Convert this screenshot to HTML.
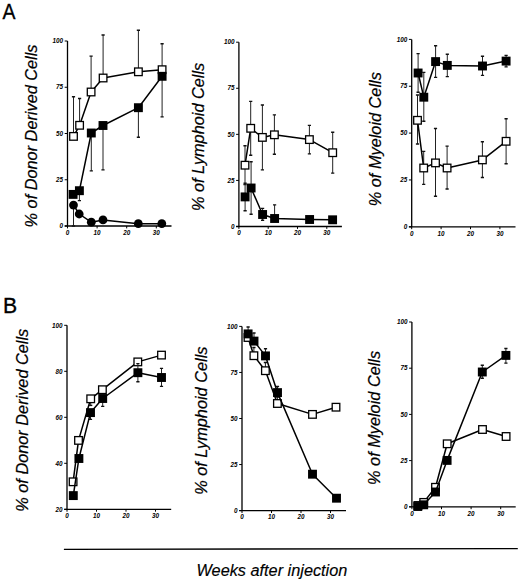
<!DOCTYPE html>
<html><head><meta charset="utf-8">
<style>
html,body{margin:0;padding:0;background:#fff;}
body{width:520px;height:582px;overflow:hidden;}
svg{display:block;}
text{font-family:"Liberation Sans", sans-serif;}
.tk{font-size:6.3px;font-style:italic;font-weight:bold;}
.yl{font-size:16.3px;font-style:italic;stroke:#000;stroke-width:0.2px;}
.xl{font-size:16.3px;font-style:italic;stroke:#000;stroke-width:0.15px;}
.pl{font-size:23.3px;stroke:#000;stroke-width:0.35px;}
</style></head>
<body>
<svg width="520" height="582" viewBox="0 0 520 582">
<rect width="520" height="582" fill="#fff"/>
<path d="M67.5 41V226M64.7 226H171.5" stroke="#000" stroke-width="1.3" fill="none"/>
<path d="M64.7 226H67.5M64.7 179.75H67.5M64.7 133.5H67.5M64.7 87.25H67.5M64.7 41H67.5M67.5 226V228.4M97.1 226V228.4M126.7 226V228.4M156.3 226V228.4" stroke="#000" stroke-width="1" fill="none"/>
<text x="63.1" y="228.2" text-anchor="end" class="tk">0</text>
<text x="63.1" y="181.95" text-anchor="end" class="tk">25</text>
<text x="63.1" y="135.7" text-anchor="end" class="tk">50</text>
<text x="63.1" y="89.45" text-anchor="end" class="tk">75</text>
<text x="63.1" y="43.2" text-anchor="end" class="tk">100</text>
<text x="67.5" y="234.8" text-anchor="middle" class="tk">0</text>
<text x="97.1" y="234.8" text-anchor="middle" class="tk">10</text>
<text x="126.7" y="234.8" text-anchor="middle" class="tk">20</text>
<text x="156.3" y="234.8" text-anchor="middle" class="tk">30</text>
<path d="M73.5 136.4V96.7M79.6 125.3V98.5M91.1 92V56.1M103.1 78V35M138.4 71.8V30.2M162.1 69.7V43.8" stroke="#222" stroke-width="1.0" fill="none"/><path d="M71.9 96.7H75.1M78 98.5H81.2M89.5 56.1H92.7M101.5 35H104.7M136.8 30.2H140M160.5 43.8H163.7" stroke="#111" stroke-width="1.4" fill="none"/>
<polyline points="73.5,136.4 79.6,125.3 91.1,92 103.1,78 138.4,71.8 162.1,69.7" stroke="#000" stroke-width="1.5" fill="none" stroke-linejoin="round"/>
<rect x="69.7" y="132.6" width="7.6" height="7.6" fill="#fff" stroke="#000" stroke-width="1.3"/>
<rect x="75.8" y="121.5" width="7.6" height="7.6" fill="#fff" stroke="#000" stroke-width="1.3"/>
<rect x="87.3" y="88.2" width="7.6" height="7.6" fill="#fff" stroke="#000" stroke-width="1.3"/>
<rect x="99.3" y="74.2" width="7.6" height="7.6" fill="#fff" stroke="#000" stroke-width="1.3"/>
<rect x="134.6" y="68" width="7.6" height="7.6" fill="#fff" stroke="#000" stroke-width="1.3"/>
<rect x="158.3" y="65.9" width="7.6" height="7.6" fill="#fff" stroke="#000" stroke-width="1.3"/>
<path d="M79.4 190.7V200.6M91.3 133V170.9M103 125.5V169.9M138.4 107.7V137.2M162.1 76.3V116.9" stroke="#222" stroke-width="1.0" fill="none"/><path d="M77.8 200.6H81M89.7 170.9H92.9M101.4 169.9H104.6M136.8 137.2H140M160.5 116.9H163.7" stroke="#111" stroke-width="1.4" fill="none"/>
<polyline points="73.1,194.4 79.4,190.7 91.3,133 103,125.5 138.4,107.7 162.1,76.3" stroke="#000" stroke-width="1.5" fill="none" stroke-linejoin="round"/>
<rect x="68.65" y="189.95" width="8.9" height="8.9" fill="#000"/>
<rect x="74.95" y="186.25" width="8.9" height="8.9" fill="#000"/>
<rect x="86.85" y="128.55" width="8.9" height="8.9" fill="#000"/>
<rect x="98.55" y="121.05" width="8.9" height="8.9" fill="#000"/>
<rect x="133.95" y="103.25" width="8.9" height="8.9" fill="#000"/>
<rect x="157.65" y="71.85" width="8.9" height="8.9" fill="#000"/>
<path d="M73.5 205.1V226" stroke="#222" stroke-width="1.0" fill="none"/><path d="M71.9 226H75.1" stroke="#111" stroke-width="1.4" fill="none"/>
<polyline points="73.5,205.1 79.2,214 91.3,222.2 103,219.9 138.3,223.7 161.8,223.7" stroke="#000" stroke-width="1.5" fill="none" stroke-linejoin="round"/>
<circle cx="73.5" cy="205.1" r="4.4" fill="#000"/>
<circle cx="79.2" cy="214" r="4.4" fill="#000"/>
<circle cx="91.3" cy="222.2" r="4.4" fill="#000"/>
<circle cx="103" cy="219.9" r="4.4" fill="#000"/>
<circle cx="138.3" cy="223.7" r="4.4" fill="#000"/>
<circle cx="161.8" cy="223.7" r="4.4" fill="#000"/>
<path d="M238.9 42.2V226.5M236.1 226.5H341.9" stroke="#000" stroke-width="1.3" fill="none"/>
<path d="M236.1 226.5H238.9M236.1 180.43H238.9M236.1 134.35H238.9M236.1 88.27H238.9M236.1 42.2H238.9M238.9 226.5V228.9M268.2 226.5V228.9M297.5 226.5V228.9M326.8 226.5V228.9" stroke="#000" stroke-width="1" fill="none"/>
<text x="234.5" y="228.7" text-anchor="end" class="tk">0</text>
<text x="234.5" y="182.62" text-anchor="end" class="tk">25</text>
<text x="234.5" y="136.55" text-anchor="end" class="tk">50</text>
<text x="234.5" y="90.47" text-anchor="end" class="tk">75</text>
<text x="234.5" y="44.4" text-anchor="end" class="tk">100</text>
<text x="238.9" y="235.3" text-anchor="middle" class="tk">0</text>
<text x="268.2" y="235.3" text-anchor="middle" class="tk">10</text>
<text x="297.5" y="235.3" text-anchor="middle" class="tk">20</text>
<text x="326.8" y="235.3" text-anchor="middle" class="tk">30</text>
<path d="M245 165.2V145.8M245 165.2V184.6M250.7 128.3V101.4M250.7 128.3V155.2M262.4 137.4V105M262.4 137.4V169.9M274.4 134.8V114.9M274.4 134.8V154.3M309.4 139.6V125.4M309.4 139.6V153.9M332.7 152.7V132.2M332.7 152.7V173.1" stroke="#222" stroke-width="1.0" fill="none"/><path d="M243.4 145.8H246.6M243.4 184.6H246.6M249.1 101.4H252.3M249.1 155.2H252.3M260.8 105H264M260.8 169.9H264M272.8 114.9H276M272.8 154.3H276M307.8 125.4H311M307.8 153.9H311M331.1 132.2H334.3M331.1 173.1H334.3" stroke="#111" stroke-width="1.4" fill="none"/>
<polyline points="245,165.2 250.7,128.3 262.4,137.4 274.4,134.8 309.4,139.6 332.7,152.7" stroke="#000" stroke-width="1.5" fill="none" stroke-linejoin="round"/>
<rect x="241.2" y="161.4" width="7.6" height="7.6" fill="#fff" stroke="#000" stroke-width="1.3"/>
<rect x="246.9" y="124.5" width="7.6" height="7.6" fill="#fff" stroke="#000" stroke-width="1.3"/>
<rect x="258.6" y="133.6" width="7.6" height="7.6" fill="#fff" stroke="#000" stroke-width="1.3"/>
<rect x="270.6" y="131" width="7.6" height="7.6" fill="#fff" stroke="#000" stroke-width="1.3"/>
<rect x="305.6" y="135.8" width="7.6" height="7.6" fill="#fff" stroke="#000" stroke-width="1.3"/>
<rect x="328.9" y="148.9" width="7.6" height="7.6" fill="#fff" stroke="#000" stroke-width="1.3"/>
<path d="M245.1 196.9V183.3M245.1 196.9V210.7M251.1 188V161.7M251.1 188V214.3M262.6 214.5V208.4M262.6 214.5V220.2M274.6 218.5V204.9" stroke="#222" stroke-width="1.0" fill="none"/><path d="M243.5 183.3H246.7M243.5 210.7H246.7M249.5 161.7H252.7M249.5 214.3H252.7M261 208.4H264.2M261 220.2H264.2M273 204.9H276.2" stroke="#111" stroke-width="1.4" fill="none"/>
<polyline points="245.1,196.9 251.1,188 262.6,214.5 274.6,218.5 309.6,219.5 332.6,219.8" stroke="#000" stroke-width="1.5" fill="none" stroke-linejoin="round"/>
<rect x="240.65" y="192.45" width="8.9" height="8.9" fill="#000"/>
<rect x="246.65" y="183.55" width="8.9" height="8.9" fill="#000"/>
<rect x="258.15" y="210.05" width="8.9" height="8.9" fill="#000"/>
<rect x="270.15" y="214.05" width="8.9" height="8.9" fill="#000"/>
<rect x="305.15" y="215.05" width="8.9" height="8.9" fill="#000"/>
<rect x="328.15" y="215.35" width="8.9" height="8.9" fill="#000"/>
<path d="M411.7 39.4V226.8M408.9 226.8H515.5" stroke="#000" stroke-width="1.3" fill="none"/>
<path d="M408.9 226.8H411.7M408.9 179.95H411.7M408.9 133.1H411.7M408.9 86.25H411.7M408.9 39.4H411.7M411.7 226.8V229.2M441.1 226.8V229.2M470.5 226.8V229.2M499.9 226.8V229.2" stroke="#000" stroke-width="1" fill="none"/>
<text x="407.3" y="229" text-anchor="end" class="tk">0</text>
<text x="407.3" y="182.15" text-anchor="end" class="tk">25</text>
<text x="407.3" y="135.3" text-anchor="end" class="tk">50</text>
<text x="407.3" y="88.45" text-anchor="end" class="tk">75</text>
<text x="407.3" y="41.6" text-anchor="end" class="tk">100</text>
<text x="411.7" y="235.6" text-anchor="middle" class="tk">0</text>
<text x="441.1" y="235.6" text-anchor="middle" class="tk">10</text>
<text x="470.5" y="235.6" text-anchor="middle" class="tk">20</text>
<text x="499.9" y="235.6" text-anchor="middle" class="tk">30</text>
<path d="M417.5 120.3V95M417.5 120.3V144M423.7 168V151.4M423.7 168V184.4M435.5 162.9V128.5M435.5 162.9V196.3M447.1 168V146.1M447.1 168V189M482.4 159.9V141.7M482.4 159.9V177.5M506.1 141.3V118.8M506.1 141.3V163.8" stroke="#222" stroke-width="1.0" fill="none"/><path d="M415.9 95H419.1M415.9 144H419.1M422.1 151.4H425.3M422.1 184.4H425.3M433.9 128.5H437.1M433.9 196.3H437.1M445.5 146.1H448.7M445.5 189H448.7M480.8 141.7H484M480.8 177.5H484M504.5 118.8H507.7M504.5 163.8H507.7" stroke="#111" stroke-width="1.4" fill="none"/>
<polyline points="417.5,120.3 423.7,168 435.5,162.9 447.1,168 482.4,159.9 506.1,141.3" stroke="#000" stroke-width="1.5" fill="none" stroke-linejoin="round"/>
<rect x="413.7" y="116.5" width="7.6" height="7.6" fill="#fff" stroke="#000" stroke-width="1.3"/>
<rect x="419.9" y="164.2" width="7.6" height="7.6" fill="#fff" stroke="#000" stroke-width="1.3"/>
<rect x="431.7" y="159.1" width="7.6" height="7.6" fill="#fff" stroke="#000" stroke-width="1.3"/>
<rect x="443.3" y="164.2" width="7.6" height="7.6" fill="#fff" stroke="#000" stroke-width="1.3"/>
<rect x="478.6" y="156.1" width="7.6" height="7.6" fill="#fff" stroke="#000" stroke-width="1.3"/>
<rect x="502.3" y="137.5" width="7.6" height="7.6" fill="#fff" stroke="#000" stroke-width="1.3"/>
<path d="M418.1 73V53.6M418.1 73V92.3M423.8 97.2V72.4M423.8 97.2V121.3M435.6 61.6V45.8M435.6 61.6V77.4M447.3 65.4V54.2M447.3 65.4V76.6M482.5 66V56.2M482.5 66V75.4M506.1 61.1V55.4M506.1 61.1V66.9" stroke="#222" stroke-width="1.0" fill="none"/><path d="M416.5 53.6H419.7M416.5 92.3H419.7M422.2 72.4H425.4M422.2 121.3H425.4M434 45.8H437.2M434 77.4H437.2M445.7 54.2H448.9M445.7 76.6H448.9M480.9 56.2H484.1M480.9 75.4H484.1M504.5 55.4H507.7M504.5 66.9H507.7" stroke="#111" stroke-width="1.4" fill="none"/>
<polyline points="418.1,73 423.8,97.2 435.6,61.6 447.3,65.4 482.5,66 506.1,61.1" stroke="#000" stroke-width="1.5" fill="none" stroke-linejoin="round"/>
<rect x="413.65" y="68.55" width="8.9" height="8.9" fill="#000"/>
<rect x="419.35" y="92.75" width="8.9" height="8.9" fill="#000"/>
<rect x="431.15" y="57.15" width="8.9" height="8.9" fill="#000"/>
<rect x="442.85" y="60.95" width="8.9" height="8.9" fill="#000"/>
<rect x="478.05" y="61.55" width="8.9" height="8.9" fill="#000"/>
<rect x="501.65" y="56.65" width="8.9" height="8.9" fill="#000"/>
<path d="M67 325.3V509.3M64.2 509.3H171.2" stroke="#000" stroke-width="1.3" fill="none"/>
<path d="M64.2 509.3H67M64.2 463.3H67M64.2 417.3H67M64.2 371.3H67M64.2 325.3H67M67 509.3V511.7M96.5 509.3V511.7M126 509.3V511.7M155.5 509.3V511.7" stroke="#000" stroke-width="1" fill="none"/>
<text x="62.6" y="511.5" text-anchor="end" class="tk">20</text>
<text x="62.6" y="465.5" text-anchor="end" class="tk">40</text>
<text x="62.6" y="419.5" text-anchor="end" class="tk">60</text>
<text x="62.6" y="373.5" text-anchor="end" class="tk">80</text>
<text x="62.6" y="327.5" text-anchor="end" class="tk">100</text>
<text x="67" y="518.1" text-anchor="middle" class="tk">0</text>
<text x="96.5" y="518.1" text-anchor="middle" class="tk">10</text>
<text x="126" y="518.1" text-anchor="middle" class="tk">20</text>
<text x="155.5" y="518.1" text-anchor="middle" class="tk">30</text>
<path d="M90.7 398.8V405.4" stroke="#222" stroke-width="1.0" fill="none"/><path d="M89.1 405.4H92.3" stroke="#111" stroke-width="1.4" fill="none"/>
<polyline points="73.1,481.8 78.5,440.4 90.7,398.8 102.4,389.7 137.8,361.9 161.5,355.1" stroke="#000" stroke-width="1.5" fill="none" stroke-linejoin="round"/>
<rect x="69.3" y="478" width="7.6" height="7.6" fill="#fff" stroke="#000" stroke-width="1.3"/>
<rect x="74.7" y="436.6" width="7.6" height="7.6" fill="#fff" stroke="#000" stroke-width="1.3"/>
<rect x="86.9" y="395" width="7.6" height="7.6" fill="#fff" stroke="#000" stroke-width="1.3"/>
<rect x="98.6" y="385.9" width="7.6" height="7.6" fill="#fff" stroke="#000" stroke-width="1.3"/>
<rect x="134" y="358.1" width="7.6" height="7.6" fill="#fff" stroke="#000" stroke-width="1.3"/>
<rect x="157.7" y="351.3" width="7.6" height="7.6" fill="#fff" stroke="#000" stroke-width="1.3"/>
<path d="M90.5 412.6V419.4M102.7 398.5V406.4M137.9 372.7V363.6M137.9 372.7V381.8M161.5 377.5V368.4M161.5 377.5V386.4" stroke="#222" stroke-width="1.0" fill="none"/><path d="M88.9 419.4H92.1M101.1 406.4H104.3M136.3 363.6H139.5M136.3 381.8H139.5M159.9 368.4H163.1M159.9 386.4H163.1" stroke="#111" stroke-width="1.4" fill="none"/>
<polyline points="73.3,495.6 78.9,458.5 90.5,412.6 102.7,398.5 137.9,372.7 161.5,377.5" stroke="#000" stroke-width="1.5" fill="none" stroke-linejoin="round"/>
<rect x="68.85" y="491.15" width="8.9" height="8.9" fill="#000"/>
<rect x="74.45" y="454.05" width="8.9" height="8.9" fill="#000"/>
<rect x="86.05" y="408.15" width="8.9" height="8.9" fill="#000"/>
<rect x="98.25" y="394.05" width="8.9" height="8.9" fill="#000"/>
<rect x="133.45" y="368.25" width="8.9" height="8.9" fill="#000"/>
<rect x="157.05" y="373.05" width="8.9" height="8.9" fill="#000"/>
<path d="M242 326.4V510.6M239.2 510.6H346" stroke="#000" stroke-width="1.3" fill="none"/>
<path d="M239.2 510.6H242M239.2 464.55H242M239.2 418.5H242M239.2 372.45H242M239.2 326.4H242M242 510.6V513M271.5 510.6V513M301 510.6V513M330.5 510.6V513" stroke="#000" stroke-width="1" fill="none"/>
<text x="237.6" y="512.8" text-anchor="end" class="tk">0</text>
<text x="237.6" y="466.75" text-anchor="end" class="tk">25</text>
<text x="237.6" y="420.7" text-anchor="end" class="tk">50</text>
<text x="237.6" y="374.65" text-anchor="end" class="tk">75</text>
<text x="237.6" y="328.6" text-anchor="end" class="tk">100</text>
<text x="242" y="519.4" text-anchor="middle" class="tk">0</text>
<text x="271.5" y="519.4" text-anchor="middle" class="tk">10</text>
<text x="301" y="519.4" text-anchor="middle" class="tk">20</text>
<text x="330.5" y="519.4" text-anchor="middle" class="tk">30</text>
<path d="M253.9 355.7V347.5M265.4 370.7V362.5M277.4 403.5V397" stroke="#222" stroke-width="1.0" fill="none"/><path d="M252.3 347.5H255.5M263.8 362.5H267M275.8 397H279" stroke="#111" stroke-width="1.4" fill="none"/>
<polyline points="248,337.5 253.9,355.7 265.4,370.7 277.4,403.5 312.5,414.4 336,407.2" stroke="#000" stroke-width="1.5" fill="none" stroke-linejoin="round"/>
<rect x="244.2" y="333.7" width="7.6" height="7.6" fill="#fff" stroke="#000" stroke-width="1.3"/>
<rect x="250.1" y="351.9" width="7.6" height="7.6" fill="#fff" stroke="#000" stroke-width="1.3"/>
<rect x="261.6" y="366.9" width="7.6" height="7.6" fill="#fff" stroke="#000" stroke-width="1.3"/>
<rect x="273.6" y="399.7" width="7.6" height="7.6" fill="#fff" stroke="#000" stroke-width="1.3"/>
<rect x="308.7" y="410.6" width="7.6" height="7.6" fill="#fff" stroke="#000" stroke-width="1.3"/>
<rect x="332.2" y="403.4" width="7.6" height="7.6" fill="#fff" stroke="#000" stroke-width="1.3"/>
<path d="M248.1 333.9V327M254 341.1V333M265.5 355.9V348.7M277.5 392.6V386.5" stroke="#222" stroke-width="1.0" fill="none"/><path d="M246.5 327H249.7M252.4 333H255.6M263.9 348.7H267.1M275.9 386.5H279.1" stroke="#111" stroke-width="1.4" fill="none"/>
<polyline points="248.1,333.9 254,341.1 265.5,355.9 277.5,392.6 312.5,474.2 336.5,498.2" stroke="#000" stroke-width="1.5" fill="none" stroke-linejoin="round"/>
<rect x="243.65" y="329.45" width="8.9" height="8.9" fill="#000"/>
<rect x="249.55" y="336.65" width="8.9" height="8.9" fill="#000"/>
<rect x="261.05" y="351.45" width="8.9" height="8.9" fill="#000"/>
<rect x="273.05" y="388.15" width="8.9" height="8.9" fill="#000"/>
<rect x="308.05" y="469.75" width="8.9" height="8.9" fill="#000"/>
<rect x="332.05" y="493.75" width="8.9" height="8.9" fill="#000"/>
<path d="M411.9 322V506.8M409.1 506.8H515.7" stroke="#000" stroke-width="1.3" fill="none"/>
<path d="M409.1 506.8H411.9M409.1 460.6H411.9M409.1 414.4H411.9M409.1 368.2H411.9M409.1 322H411.9M411.9 506.8V509.2M441.5 506.8V509.2M471.1 506.8V509.2M500.7 506.8V509.2" stroke="#000" stroke-width="1" fill="none"/>
<text x="407.5" y="509" text-anchor="end" class="tk">0</text>
<text x="407.5" y="462.8" text-anchor="end" class="tk">25</text>
<text x="407.5" y="416.6" text-anchor="end" class="tk">50</text>
<text x="407.5" y="370.4" text-anchor="end" class="tk">75</text>
<text x="407.5" y="324.2" text-anchor="end" class="tk">100</text>
<text x="411.9" y="515.6" text-anchor="middle" class="tk">0</text>
<text x="441.5" y="515.6" text-anchor="middle" class="tk">10</text>
<text x="471.1" y="515.6" text-anchor="middle" class="tk">20</text>
<text x="500.7" y="515.6" text-anchor="middle" class="tk">30</text>
<polyline points="417.9,505.5 423.7,502.4 435.5,487.3 447.2,443.8 482.5,429.5 506.1,436.5" stroke="#000" stroke-width="1.5" fill="none" stroke-linejoin="round"/>
<rect x="414.1" y="501.7" width="7.6" height="7.6" fill="#fff" stroke="#000" stroke-width="1.3"/>
<rect x="419.9" y="498.6" width="7.6" height="7.6" fill="#fff" stroke="#000" stroke-width="1.3"/>
<rect x="431.7" y="483.5" width="7.6" height="7.6" fill="#fff" stroke="#000" stroke-width="1.3"/>
<rect x="443.4" y="440" width="7.6" height="7.6" fill="#fff" stroke="#000" stroke-width="1.3"/>
<rect x="478.7" y="425.7" width="7.6" height="7.6" fill="#fff" stroke="#000" stroke-width="1.3"/>
<rect x="502.3" y="432.7" width="7.6" height="7.6" fill="#fff" stroke="#000" stroke-width="1.3"/>
<path d="M482.3 372V365.2M482.3 372V378.3M505.9 355.4V348.5M505.9 355.4V363.1" stroke="#222" stroke-width="1.0" fill="none"/><path d="M480.7 365.2H483.9M480.7 378.3H483.9M504.3 348.5H507.5M504.3 363.1H507.5" stroke="#111" stroke-width="1.4" fill="none"/>
<polyline points="417.8,506.5 423.7,504.8 435.5,492 447.1,460.4 482.3,372 505.9,355.4" stroke="#000" stroke-width="1.5" fill="none" stroke-linejoin="round"/>
<rect x="413.35" y="502.05" width="8.9" height="8.9" fill="#000"/>
<rect x="419.25" y="500.35" width="8.9" height="8.9" fill="#000"/>
<rect x="431.05" y="487.55" width="8.9" height="8.9" fill="#000"/>
<rect x="442.65" y="455.95" width="8.9" height="8.9" fill="#000"/>
<rect x="477.85" y="367.55" width="8.9" height="8.9" fill="#000"/>
<rect x="501.45" y="350.95" width="8.9" height="8.9" fill="#000"/>
<text transform="translate(36.5 227.4) rotate(-90) scale(1 1.05)" class="yl">% of Donor Derived Cells</text>
<text transform="translate(204 211) rotate(-90) scale(1 1.05)" class="yl">% of Lymphoid Cells</text>
<text transform="translate(381.3 206.2) rotate(-90) scale(1 1.05)" class="yl">% of Myeloid Cells</text>
<text transform="translate(28.2 511.7) rotate(-90) scale(1 1.05)" class="yl">% of Donor Derived Cells</text>
<text transform="translate(207.1 494.8) rotate(-90) scale(1 1.05)" class="yl">% of Lymphoid Cells</text>
<text transform="translate(380.3 484.9) rotate(-90) scale(1 1.05)" class="yl">% of Myeloid Cells</text>
<text transform="translate(2.6 18.9) scale(0.9 1)" class="pl" style="font-size:21.6px">A</text>
<text transform="translate(3.0 312.9) scale(0.93 1)" class="pl" style="font-size:22.8px">B</text>
<path d="M63.9 549.3L517.8 548.6" stroke="#000" stroke-width="1.3"/>
<text x="196.5" y="575.5" class="xl">Weeks after injection</text>
</svg>
</body></html>
